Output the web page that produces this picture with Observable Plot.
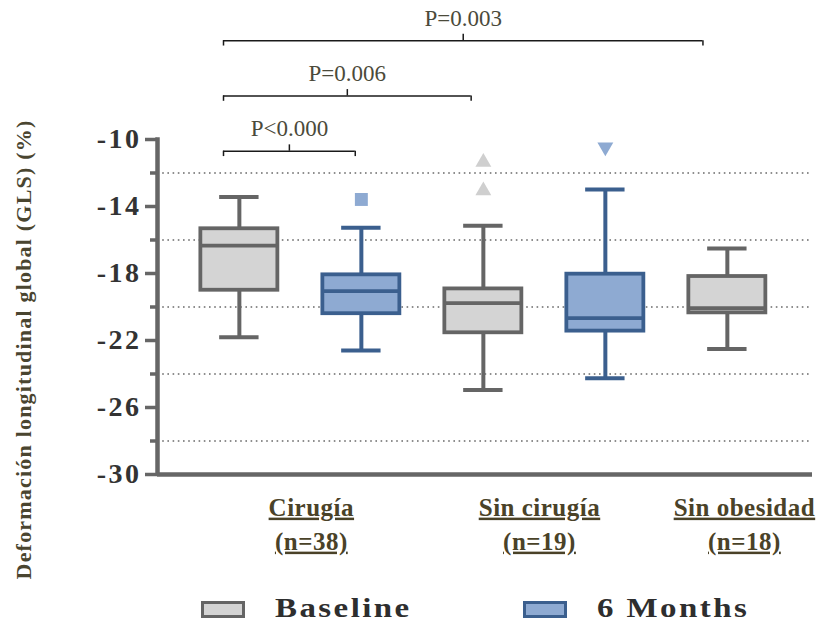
<!DOCTYPE html>
<html><head><meta charset="utf-8">
<script src="https://cdn.jsdelivr.net/npm/d3@7"></script>
<script src="https://cdn.jsdelivr.net/npm/@observablehq/plot@0.6"></script>
<style>
  html,body{margin:0;padding:0;background:#fff;}
  #chart svg{display:block;}
  #legend{position:relative;width:819px;height:46px;font-family:"Liberation Serif",serif;}
  #legend .sw{position:absolute;box-sizing:border-box;width:44px;height:17px;top:21px;border:3.5px solid;}
  #legend .lt{position:absolute;top:15px;font-size:27px;line-height:27px;font-weight:bold;letter-spacing:2px;color:#2e2e2e;white-space:nowrap;transform:scaleX(1.22);transform-origin:left center;}
</style>
</head><body>
<div id="chart"></div>
<div id="legend"></div>
<script>
// ---------- data ----------
const groups = ["Cirugía", "Cirugía", "Sin cirugía", "Sin cirugía", "Sin obesidad"];
const times = ["Baseline", "6 Months", "Baseline", "6 Months", "Baseline"];
const whiskerHigh = [-13.44, -15.27, -15.15, -12.99, -16.5];
const q3 = [-15.33, -18.08, -18.92, -18.04, -18.18];
const median = [-16.33, -19.05, -19.77, -20.67, -20.07];
const q1 = [-19.0, -20.4, -21.54, -21.44, -20.35];
const whiskerLow = [-21.8, -22.6, -24.95, -24.25, -22.5];

const outlierBox = [1, 2, 2, 3];
const outlierValue = [-13.58, -11.35, -13.05, -10.45];

const groupNames = ["Cirugía", "Sin cirugía", "Sin obesidad"];
const groupN = [38, 19, 18];

const compFrom = [0, 0, 0];
const compTo = [1, 2, 4];
const compLabel = ["P<0.000", "P=0.006", "P=0.003"];

const majorTicks = [-10, -14, -18, -22, -26, -30];
const minorTicks = [-12, -16, -20, -24, -28];
const seriesNames = ["Baseline", "6 Months"];
const yTitle = "Deformación longitudinal global (GLS) (%)";

// ---------- styles / layout ----------
const seriesStyle = {
  "Baseline": {fill: "#d4d4d4", stroke: "#656565", outlier: "#cfcfcf"},
  "6 Months": {fill: "#8eaad2", stroke: "#3b5f8e", outlier: "#8eaad2"}
};
const boxSymbol = ["circle", "square", "triangle", "triangle-down", "diamond"];
const boxHW = 0.3156, capHW = 0.1615;
const labelNudge = [0.09, -0.04, 0.14];
const serif = "Liberation Serif, Times New Roman, serif";

const boxes = groups.map((g, i) => ({
  i, group: g, time: times[i],
  hi: whiskerHigh[i], q3: q3[i], med: median[i], q1: q1[i], lo: whiskerLow[i]
}));
const outliers = outlierBox.map((b, k) => ({
  i: b, v: outlierValue[k], time: times[b], symbol: boxSymbol[b]
}));
const groupLabels = groupNames.map((name, k) => {
  const idx = boxes.filter(d => d.group === name).map(d => d.i);
  return {x: d3.mean(idx) + labelNudge[k], text: `${name}\n(n=${groupN[k]})`};
});
const comps = compLabel.map((p, k) => {
  const a = compFrom[k] - 0.13;
  const b = compTo[k] - 0.05 * (compTo[k] - compFrom[k]);
  return {a, b, c: (a + b) / 2, level: -10.7 + k * 3.3, p};
});

const marks = [];
// dotted gridlines
marks.push(Plot.ruleY(minorTicks, {stroke: "#6a6a6a", strokeWidth: 1.5, strokeDasharray: "1.6 3.6"}));

for (const s of seriesNames) {
  const sub = boxes.filter(d => d.time === s);
  const st = seriesStyle[s];
  marks.push(
    Plot.ruleX(sub, {x: "i", y1: "q3", y2: "hi", stroke: st.stroke, strokeWidth: 4}),
    Plot.ruleX(sub, {x: "i", y1: "q1", y2: "lo", stroke: st.stroke, strokeWidth: 4}),
    Plot.ruleY(sub, {y: "hi", x1: d => d.i - capHW, x2: d => d.i + capHW, stroke: st.stroke, strokeWidth: 4}),
    Plot.ruleY(sub, {y: "lo", x1: d => d.i - capHW, x2: d => d.i + capHW, stroke: st.stroke, strokeWidth: 4}),
    Plot.rect(sub, {x1: d => d.i - boxHW, x2: d => d.i + boxHW, y1: "q1", y2: "q3", fill: st.fill, stroke: st.stroke, strokeWidth: 3.8}),
    Plot.ruleY(sub, {y: "med", x1: d => d.i - boxHW, x2: d => d.i + boxHW, stroke: st.stroke, strokeWidth: 3.8})
  );
}

// outliers
for (const o of outliers) {
  const down = o.symbol === "triangle-down";
  const sym = down ? "triangle" : o.symbol;
  marks.push(Plot.dot([o], {
    x: "i", y: "v", symbol: () => sym, r: sym === "square" ? 7.3 : 5.9,
    fill: seriesStyle[o.time].outlier, stroke: "none", rotate: down ? 180 : 0
  }));
}

// axes lines
marks.push(Plot.ruleY([-30], {stroke: "#666", strokeWidth: 4.5}));
marks.push(Plot.ruleX([-0.671], {y1: -30, y2: -9.9, stroke: "#666", strokeWidth: 4.5}));
marks.push(Plot.axisY({ticks: minorTicks, tickSize: 7, tickFormat: () => "", stroke: "#666", strokeWidth: 3.5, label: null}));
marks.push(Plot.axisY({ticks: majorTicks, tickSize: 12, tickPadding: 4, tickFormat: d => String(d),
  fontSize: 28, fontWeight: "bold", fontFamily: serif, fill: "#333", stroke: "#666", strokeWidth: 3.5, label: null}));

// y title
marks.push(Plot.text([yTitle], {frameAnchor: "left", textAnchor: "middle", dx: -134, dy: 42.5, rotate: -90,
  fontSize: 22, fontWeight: "bold", fontFamily: serif, fill: "#4a4530"}));

// group labels
marks.push(Plot.text(groupLabels, {x: "x", y: -30, text: "text", lineAnchor: "top", dy: 17, lineHeight: 1.36,
  fontSize: 25, fontWeight: "bold", fontFamily: serif, fill: "#4a4228"}));

// significance brackets
marks.push(
  Plot.ruleY(comps, {y: "level", x1: "a", x2: "b", stroke: "#1a1a1a", strokeWidth: 1.5}),
  Plot.ruleX(comps, {x: "a", y1: "level", y2: d => d.level - 0.32, stroke: "#1a1a1a", strokeWidth: 1.5}),
  Plot.ruleX(comps, {x: "b", y1: "level", y2: d => d.level - 0.32, stroke: "#1a1a1a", strokeWidth: 1.5}),
  Plot.ruleX(comps, {x: "c", y1: "level", y2: d => d.level + 0.38, stroke: "#1a1a1a", strokeWidth: 1.5}),
  Plot.text(comps, {x: "c", y: "level", text: "p", lineAnchor: "bottom", dy: -15,
    fontSize: 23, fontFamily: serif, fill: "#4b4a3a"})
);

const chart = Plot.plot({
  width: 819, height: 580,
  marginLeft: 157, marginRight: 7, marginTop: 139, marginBottom: 106,
  x: {domain: [-0.671, 4.698], axis: null},
  y: {domain: [-30, -10]},
  style: {fontFamily: serif, background: "white", overflow: "visible"},
  marks
});
document.getElementById("chart").appendChild(chart);

// text styling not exposed as mark options
chart.querySelectorAll("text").forEach(t => {
  const s = t.textContent;
  if (/^-\d+$/.test(s)) t.style.letterSpacing = "2.5px";
  else if (s === yTitle) t.style.letterSpacing = "1.2px";
  else if (groupNames.some(g => s.startsWith(g))) {
    t.style.letterSpacing = "0.5px";
    t.style.textDecoration = "underline";
    t.style.textDecorationThickness = "3px";
  }
});

// legend
const legend = document.getElementById("legend");
const legendPos = {"Baseline": [201, 275], "6 Months": [523, 597]};
for (const s of seriesNames) {
  const sw = document.createElement("div");
  sw.className = "sw";
  sw.style.left = legendPos[s][0] + "px";
  sw.style.background = seriesStyle[s].fill;
  sw.style.borderColor = seriesStyle[s].stroke;
  legend.appendChild(sw);
  const lt = document.createElement("div");
  lt.className = "lt";
  lt.style.left = legendPos[s][1] + "px";
  lt.textContent = s;
  legend.appendChild(lt);
}
</script>
</body></html>
